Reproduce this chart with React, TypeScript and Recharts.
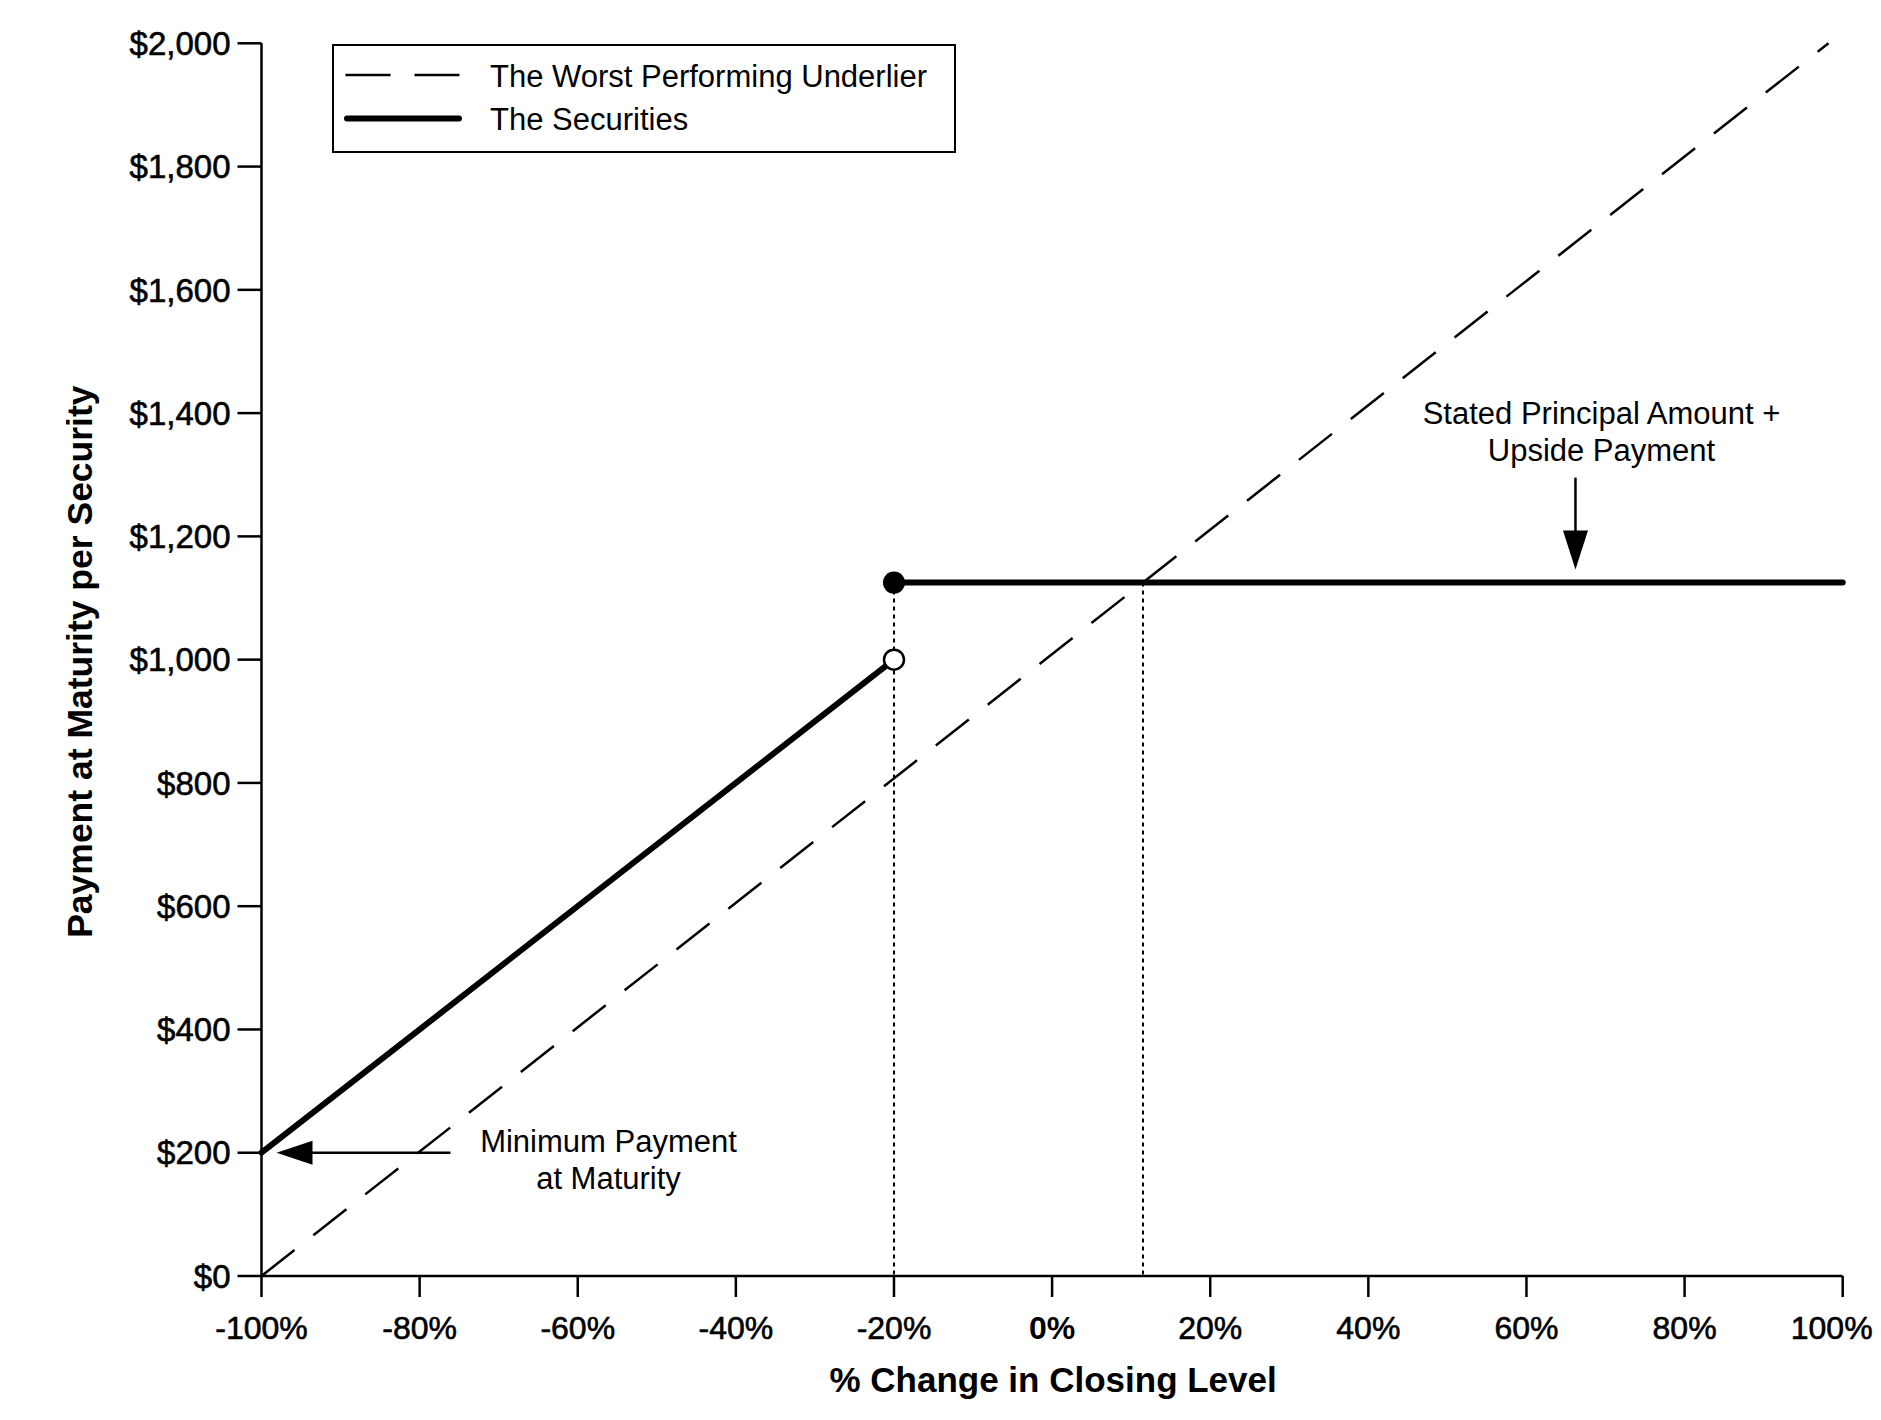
import React from 'react';
import { ComposedChart, Line, XAxis, YAxis, ReferenceDot, Label } from 'recharts';

const FONT = '"Liberation Sans", Arial, Helvetica, sans-serif';

// ---- data ----
const xTicks = [-100, -80, -60, -40, -20, 0, 20, 40, 60, 80, 100];
const yTicks = [0, 200, 400, 600, 800, 1000, 1200, 1400, 1600, 1800, 2000];

const underlierX = [-100, 98.2];
const underlierY = [0, 2000];

const lowerLegX = [-100, -20];
const lowerLegY = [200, 1000];

const capLegX = [-20, 100];
const capLegY = [1125, 1125];

const barrierX = [-20, -20];
const barrierY = [1125, 0];

const crossX = [11.5, 11.5];
const crossY = [1125, 0];

const minPaymentPoint = { x: -100, y: 200 };
const upsideArrowPoint = { x: 66.2, y: 1125 };

const legendLabels = ['The Worst Performing Underlier', 'The Securities'];
const minPaymentText = ['Minimum Payment', 'at Maturity'];
const upsideText = ['Stated Principal Amount +', 'Upside Payment'];
const xTitle = '% Change in Closing Level';
const yTitle = 'Payment at Maturity per Security';

// build table for the library
type Row = { x: number; [k: string]: number };
const rows: Row[] = [];
const addSeries = (key: string, xs: number[], ys: number[]) => {
  xs.forEach((x, i) => rows.push({ x, [key]: ys[i] }));
};
addSeries('barrier', barrierX, barrierY);
addSeries('cross', crossX, crossY);
addSeries('underlier', underlierX, underlierY);
addSeries('lower', lowerLegX, lowerLegY);
addSeries('cap', capLegX, capLegY);

// ---- rendering helpers ----
const XTick = (props: any) => {
  const { x, y, payload } = props;
  const v = payload.value;
  const isZero = v === 0;
  const shift = v === 100 ? -11 : 0;
  return (
    <text
      x={x + shift}
      y={y}
      dy="0.71em"
      textAnchor="middle"
      fontFamily={FONT}
      fontSize={32}
      fontWeight={isZero ? 700 : 400}
      fill="#000"
      stroke={isZero ? 'none' : '#000'}
      strokeWidth={0.6}
    >
      {`${v}%`}
    </text>
  );
};

const YTick = (props: any) => {
  const { x, y, payload } = props;
  const v = payload.value as number;
  return (
    <text
      x={x}
      y={y}
      dy="0.355em"
      textAnchor="end"
      fontFamily={FONT}
      fontSize={33}
      fill="#000"
      stroke="#000"
      strokeWidth={0.6}
    >
      {`$${v.toLocaleString('en-US')}`}
    </text>
  );
};

const XTitle = (props: any) => {
  const vb = props.viewBox;
  return (
    <text
      x={vb.x + vb.width / 2 + 1}
      y={vb.y + 116}
      textAnchor="middle"
      fontFamily={FONT}
      fontSize={35}
      fontWeight={700}
      fill="#000"
    >
      {xTitle}
    </text>
  );
};

const YTitle = (props: any) => {
  const vb = props.viewBox;
  const x = vb.x + vb.width - 169.5;
  const y = vb.y + vb.height / 2 + 2;
  return (
    <text
      x={x}
      y={y}
      transform={`rotate(-90, ${x}, ${y})`}
      textAnchor="middle"
      fontFamily={FONT}
      fontSize={35.5}
      fontWeight={700}
      fill="#000"
    >
      {yTitle}
    </text>
  );
};

const openDot = (p: any) => {
  if (p.payload && p.payload.x === lowerLegX[1] && p.payload.lower != null) {
    return <circle key={`o${p.index}`} cx={p.cx} cy={p.cy} r={10} fill="#fff" stroke="#000" strokeWidth={2.5} />;
  }
  return <g key={`o${p.index}`} />;
};

const filledDot = (p: any) => {
  if (p.payload && p.payload.x === capLegX[0] && p.payload.cap != null) {
    return <circle key={`f${p.index}`} cx={p.cx} cy={p.cy} r={11} fill="#000" stroke="none" />;
  }
  return <g key={`f${p.index}`} />;
};

const MinPaymentShape = (p: any) => {
  const { cx, cy } = p;
  return (
    <g>
      <polygon points={`${cx + 15},${cy} ${cx + 51},${cy - 12} ${cx + 51},${cy + 12}`} fill="#000" />
      <line x1={cx + 50} y1={cy} x2={cx + 189} y2={cy} stroke="#000" strokeWidth={2.5} />
      <text x={cx + 347} y={cy - 1} textAnchor="middle" fontFamily={FONT} fontSize={31} fill="#000">
        {minPaymentText[0]}
      </text>
      <text x={cx + 347} y={cy + 36} textAnchor="middle" fontFamily={FONT} fontSize={31} fill="#000">
        {minPaymentText[1]}
      </text>
    </g>
  );
};

const UpsideShape = (p: any) => {
  const { cx, cy } = p;
  return (
    <g>
      <polygon points={`${cx},${cy - 13} ${cx - 12.5},${cy - 52} ${cx + 12.5},${cy - 52}`} fill="#000" />
      <line x1={cx} y1={cy - 51} x2={cx} y2={cy - 105} stroke="#000" strokeWidth={2.5} />
      <text x={cx + 26} y={cy - 159} textAnchor="middle" fontFamily={FONT} fontSize={31} fill="#000">
        {upsideText[0]}
      </text>
      <text x={cx + 26} y={cy - 122} textAnchor="middle" fontFamily={FONT} fontSize={31} fill="#000">
        {upsideText[1]}
      </text>
    </g>
  );
};

const DASH = '42 24';

const ChartLegend = () => (
  <svg
    width={630}
    height={112}
    style={{ position: 'absolute', left: 324, top: 36, overflow: 'visible' }}
  >
    <rect x={1} y={1} width={622} height={107} fill="#fff" stroke="#000" strokeWidth={2} />
    <line x1={13.5} y1={31} x2={129} y2={31} stroke="#000" strokeWidth={2.5} strokeDasharray="45 24" />
    <line x1={15} y1={74.5} x2={127} y2={74.5} stroke="#000" strokeWidth={6} strokeLinecap="round" />
    <text x={158} y={43} fontFamily={FONT} fontSize={31} fill="#000">
      {legendLabels[0]}
    </text>
    <text x={158} y={86} fontFamily={FONT} fontSize={31} fill="#000">
      {legendLabels[1]}
    </text>
  </svg>
);

export default function App() {
  return (
    <div style={{ position: 'relative', width: 1873, height: 1404, background: '#fff' }}>
      <ComposedChart
        width={1873}
        height={1404}
        data={rows}
        margin={{ top: 35.3, right: 38.3, left: 133.5, bottom: 56 }}
      >
        <XAxis
          type="number"
          dataKey="x"
          domain={[-100, 100]}
          ticks={xTicks}
          interval={0}
          height={80}
          tickSize={21}
          tickMargin={19}
          tick={<XTick />}
          axisLine={{ stroke: '#000', strokeWidth: 2.5 }}
          tickLine={{ stroke: '#000', strokeWidth: 2.5 }}
        >
          <Label content={<XTitle />} />
        </XAxis>
        <YAxis
          type="number"
          domain={[0, 2000]}
          ticks={yTicks}
          interval={0}
          width={120}
          tickSize={24}
          tickMargin={7}
          tick={<YTick />}
          axisLine={{ stroke: '#000', strokeWidth: 2.5 }}
          tickLine={{ stroke: '#000', strokeWidth: 2.5 }}
        >
          <Label content={<YTitle />} />
        </YAxis>

        <Line
          dataKey="barrier"
          type="linear"
          stroke="#000"
          strokeWidth={2}
          strokeDasharray="4 4"
          dot={false}
          activeDot={false}
          connectNulls
          isAnimationActive={false}
        />
        <Line
          dataKey="cross"
          type="linear"
          stroke="#000"
          strokeWidth={2}
          strokeDasharray="4 4"
          dot={false}
          activeDot={false}
          connectNulls
          isAnimationActive={false}
        />
        <Line
          dataKey="underlier"
          type="linear"
          stroke="#000"
          strokeWidth={2.5}
          strokeDasharray={DASH}
          dot={false}
          activeDot={false}
          connectNulls
          isAnimationActive={false}
        />
        <Line
          dataKey="lower"
          type="linear"
          stroke="#000"
          strokeWidth={6}
          strokeLinecap="round"
          dot={openDot}
          activeDot={false}
          connectNulls
          isAnimationActive={false}
        />
        <Line
          dataKey="cap"
          type="linear"
          stroke="#000"
          strokeWidth={6}
          strokeLinecap="round"
          dot={filledDot}
          activeDot={false}
          connectNulls
          isAnimationActive={false}
        />

        <ReferenceDot
          x={minPaymentPoint.x}
          y={minPaymentPoint.y}
          r={0}
          ifOverflow="visible"
          shape={MinPaymentShape}
        />
        <ReferenceDot
          x={upsideArrowPoint.x}
          y={upsideArrowPoint.y}
          r={0}
          ifOverflow="visible"
          shape={UpsideShape}
        />
      </ComposedChart>
      <ChartLegend />
    </div>
  );
}
